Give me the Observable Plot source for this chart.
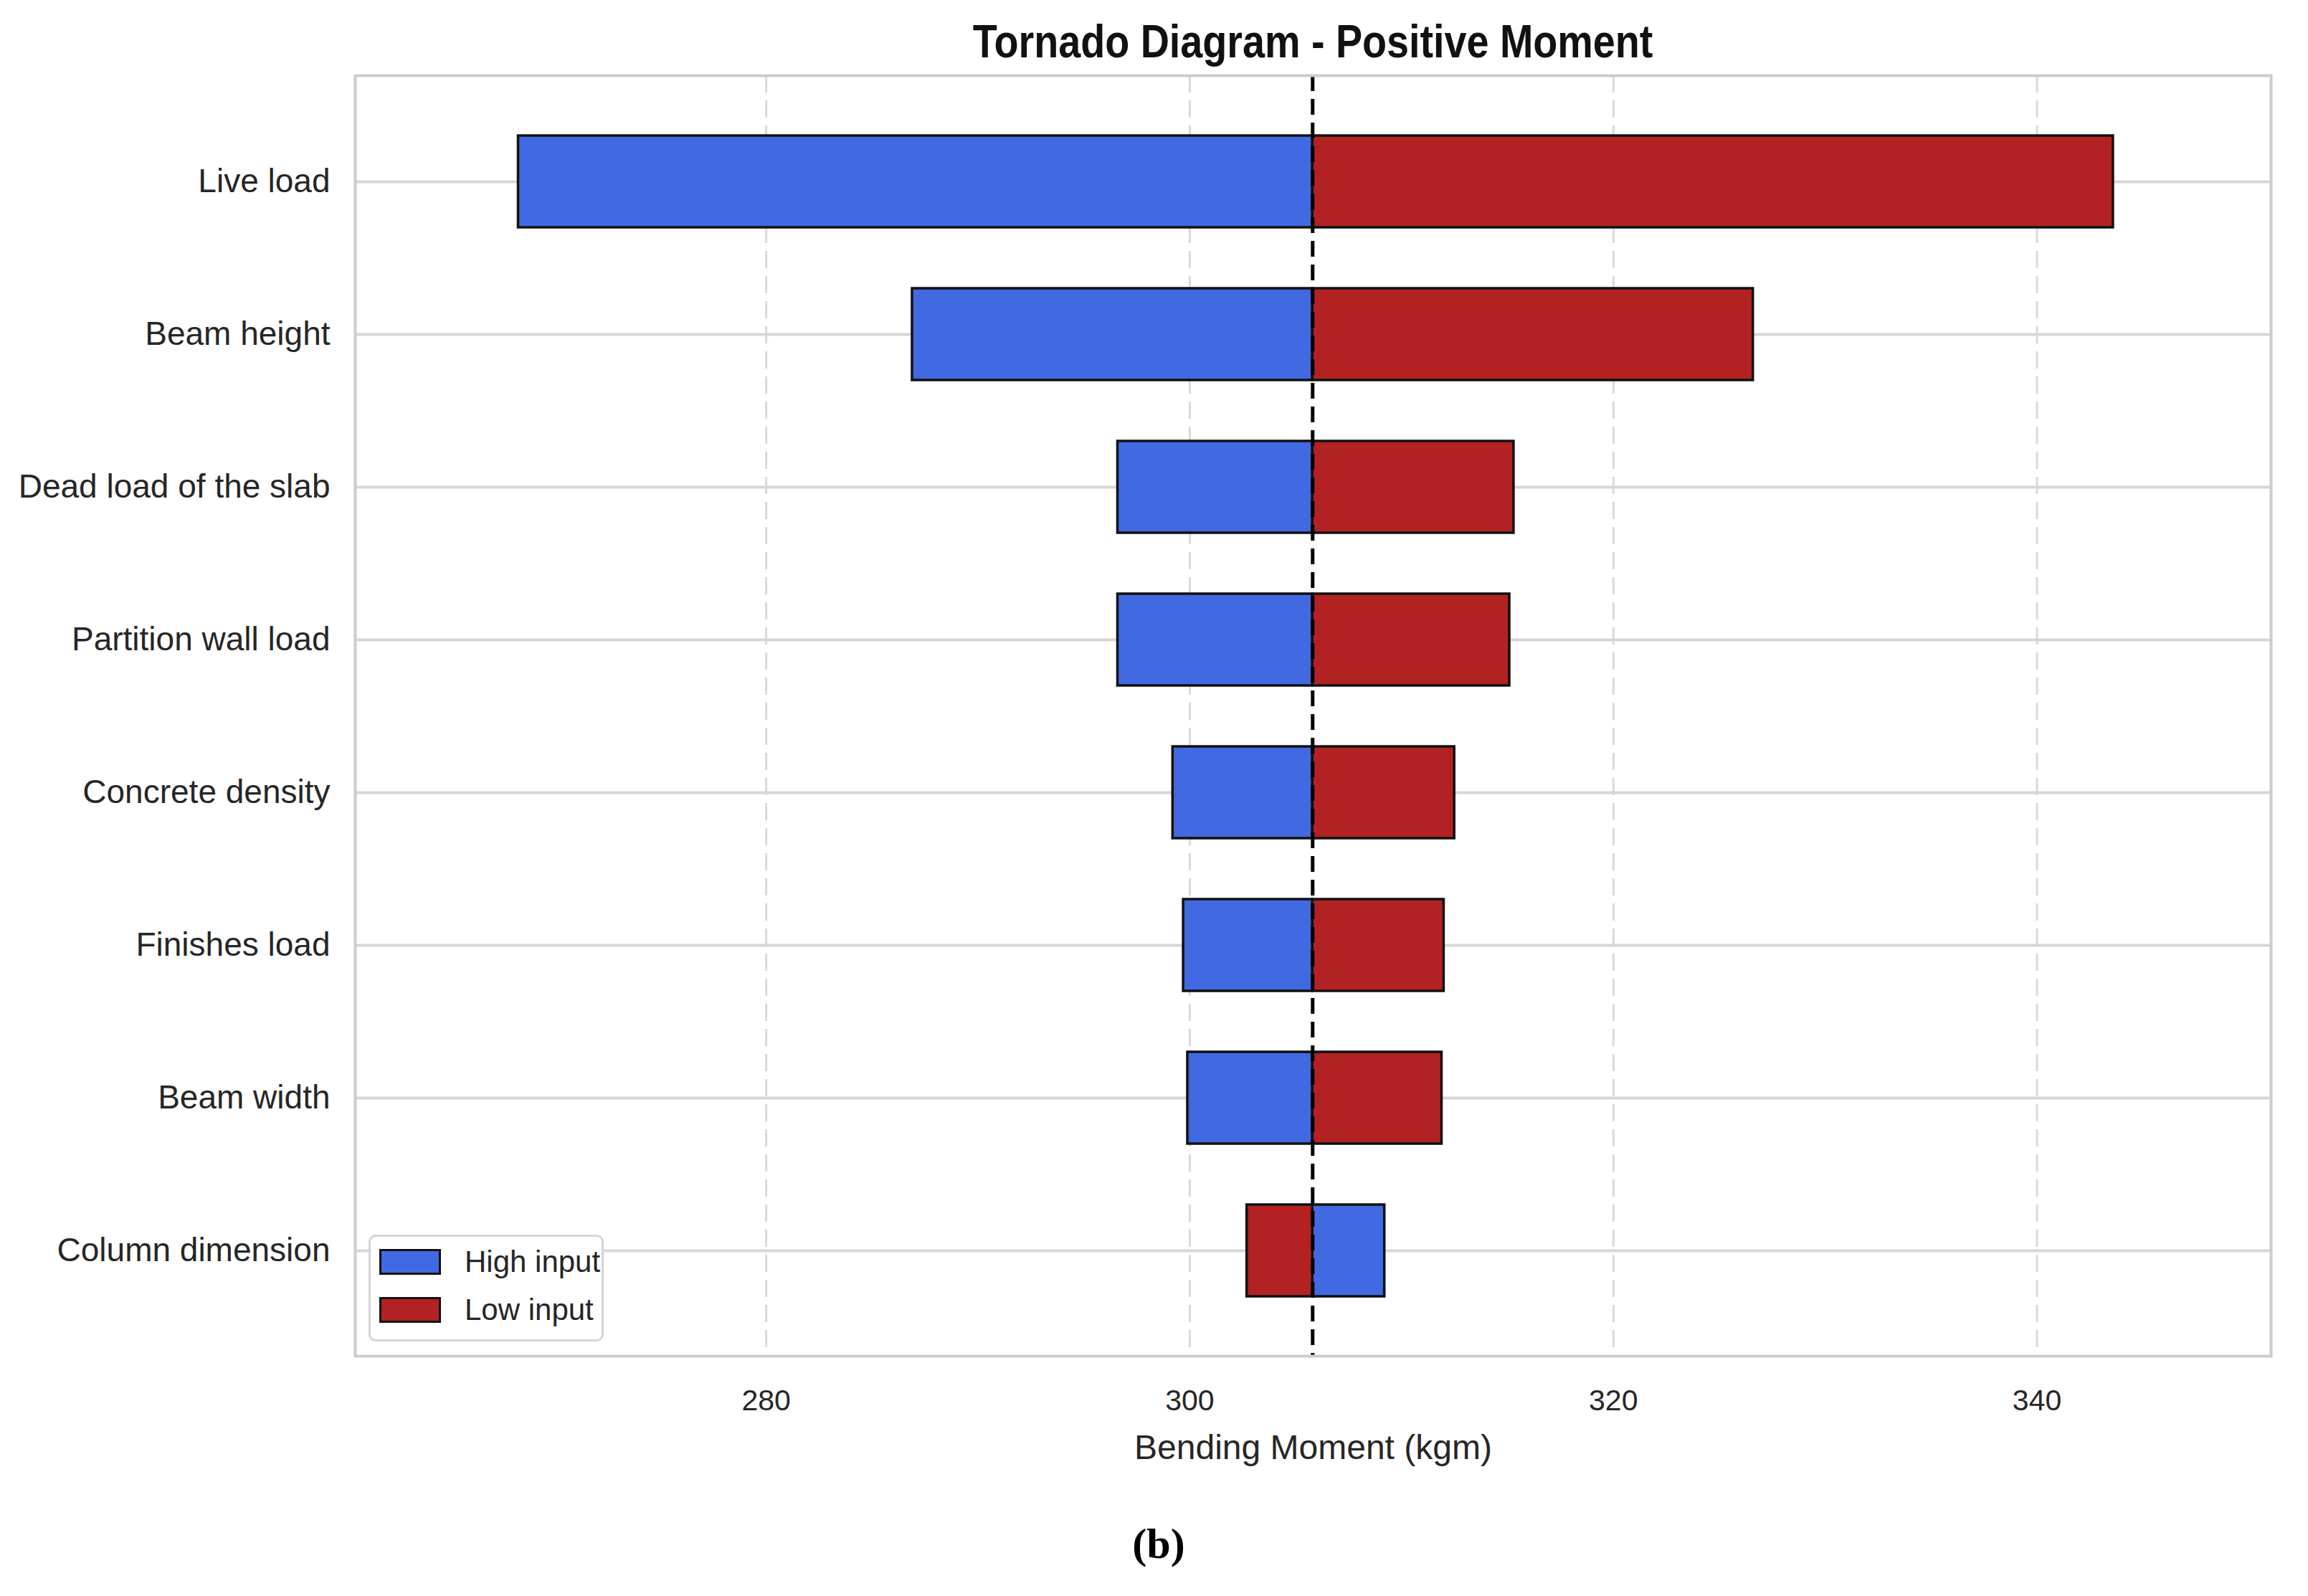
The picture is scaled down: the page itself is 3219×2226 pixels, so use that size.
<!DOCTYPE html>
<html>
<head>
<meta charset="utf-8">
<script src="https://cdn.jsdelivr.net/npm/d3@7"></script>
<script src="https://cdn.jsdelivr.net/npm/@observablehq/plot@0.6"></script>
<style>
  html, body { margin: 0; padding: 0; background: #ffffff; }
  #wrap { position: relative; width: 3219px; height: 2226px; overflow: hidden; font-family: "Liberation Sans", Arial, Helvetica, sans-serif; }
  #chart { position: absolute; left: 0; top: 0; }
  .title { position: absolute; left: 1831px; top: 22px; transform: translateX(-50%) scaleX(0.87); white-space: nowrap; font-weight: bold; font-size: 64px; line-height: 72px; color: #111; }
  .legend { position: absolute; left: 514px; top: 1722px; width: 322px; height: 143px; border: 3px solid #d4d4d4; border-radius: 10px; background: #ffffff; }
  .item { position: absolute; left: 12px; height: 40px; display: flex; align-items: center; white-space: nowrap; }
  .sw { width: 80px; height: 30px; border: 3px solid #111; margin-right: 33px; }
  .lab { font-size: 42px; color: #262626; }
  .caption { position: absolute; left: 1616px; top: 2118px; transform: translateX(-50%); font-family: "Liberation Serif", "Times New Roman", serif; font-weight: bold; font-size: 60px; line-height: 70px; color: #000; }
</style>
</head>
<body>
<div id="wrap">
  <div id="chart"></div>
  <div class="title" id="title"></div>
  <div class="legend" id="legend"></div>
  <div class="caption" id="caption"></div>
</div>
<script>
// ---- data ----
const params = ["Live load", "Beam height", "Dead load of the slab", "Partition wall load",
                "Concrete density", "Finishes load", "Beam width", "Column dimension"];
const highInput = [268.3, 286.9, 296.6, 296.6, 299.2, 299.7, 299.9, 309.2];
const lowInput  = [343.6, 326.6, 315.3, 315.1, 312.5, 312.0, 311.9, 302.7];
const baseValue = 305.8;
const xTicks = [280, 300, 320, 340];
const xDomain = [260.6, 351.05];
const seriesNames = ["High input", "Low input"];
const seriesColors = ["#4169e1", "#b22222"];
const titleText = "Tornado Diagram - Positive Moment";
const xLabel = "Bending Moment (kgm)";
const captionText = "(b)";

// table built from arrays
const rows = [];
params.forEach((p, i) => {
  rows.push({param: p, series: seriesNames[0], value: highInput[i]});
  rows.push({param: p, series: seriesNames[1], value: lowInput[i]});
});

const W = 3219, H = 2226;
const chart = Plot.plot({
  width: W,
  height: H,
  marginLeft: 495,
  marginRight: 52,
  marginTop: 105,
  marginBottom: 335,
  style: {background: "transparent", color: "#262626", fontFamily: "'Liberation Sans', Arial, Helvetica, sans-serif"},
  x: {domain: xDomain},
  y: {domain: params, paddingInner: 0.4, paddingOuter: 0.38},
  color: {domain: seriesNames, range: seriesColors},
  marks: [
    Plot.gridX({ticks: xTicks, stroke: "#d9d9d9", strokeOpacity: 1, strokeWidth: 3, strokeDasharray: "24,11"}),
    Plot.gridY({stroke: "#d6d6d6", strokeOpacity: 1, strokeWidth: 4}),
    Plot.barX(rows, {y: "param", x1: () => baseValue, x2: "value", fill: "series", stroke: "#111", strokeWidth: 3.5}),
    Plot.ruleX([baseValue], {stroke: "#000", strokeWidth: 5, strokeDasharray: "22,11"}),
    Plot.frame({stroke: "#cccccc", strokeWidth: 4}),
    Plot.axisX({ticks: xTicks, tickSize: 0, tickPadding: 46, fontSize: 41, label: null}),
    Plot.axisY({tickSize: 0, tickPadding: 35, fontSize: 46, label: null}),
    Plot.text([xLabel], {frameAnchor: "bottom", lineAnchor: "bottom", dy: 143, fontSize: 48, fill: "#262626"})
  ]
});
document.getElementById("chart").appendChild(chart);

document.getElementById("title").textContent = titleText;
document.getElementById("caption").textContent = captionText;

const legend = document.getElementById("legend");
seriesNames.forEach((s, i) => {
  const item = document.createElement("div");
  item.className = "item";
  item.style.top = (15 + i * 67) + "px";
  const sw = document.createElement("div");
  sw.className = "sw";
  sw.style.background = seriesColors[i];
  const lab = document.createElement("span");
  lab.className = "lab";
  lab.textContent = s;
  item.appendChild(sw);
  item.appendChild(lab);
  legend.appendChild(item);
});
</script>
</body>
</html>
